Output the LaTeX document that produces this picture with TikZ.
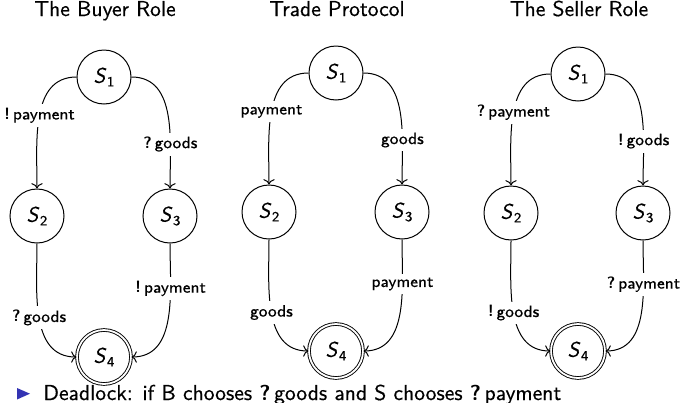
\documentclass[tikz,border=0pt]{standalone}
\usepackage{fontspec}
\setsansfont{Latin Modern Sans}[UprightFeatures={FakeBold=0.5},ItalicFeatures={FakeBold=0.5}]
\renewcommand\familydefault{\sfdefault}
\usetikzlibrary{arrows.meta}
\definecolor{bstruct}{RGB}{51,51,179}
\newcommand{\stname}[1]{\textit{S}\kern0.3pt\raisebox{-0.4ex}{\fontsize{7}{8}\selectfont #1}}
\begin{document}
\begin{tikzpicture}[x=0.5pt,y=-0.5pt,
  state/.style={circle,draw,line width=0.5pt,minimum size=27pt,inner sep=0pt,font=\fontsize{10.5}{12}\selectfont},
  accept/.style={state,double,double distance=0.9pt,line width=0.45pt},
  trans/.style={->,line width=0.5pt},
  lbl/.style={fill=white,font=\fontsize{8.2}{10}\selectfont,inner sep=2pt},
  ttl/.style={anchor=base,font=\fontsize{10.8}{12}\selectfont}]
\useasboundingbox (0,0) rectangle (680,402);
% titles
\node[ttl] (t1) at (105,16) {The Buyer Role};
\node[ttl] (t2) at (337,16) {Trade Protocol};
\node[ttl] (t3) at (579,16) {The Seller Role};
% buyer
\node[state] (b1) at (104,77) {\stname{1}};
\node[state] (b2) at (37,216) {\stname{2}};
\node[state] (b3) at (170,216) {\stname{3}};
\node[accept] (b4) at (104,357) {\stname{4}};
\draw[trans] (b1) to[out=180,in=90] node[lbl] {\textbf{!}\,payment} (b2);
\draw[trans] (b1) to[out=0,in=90] node[lbl,pos=0.7] {\textbf{?}\,goods} (b3);
\draw[trans] (b2) to[out=270,in=180] node[lbl] {\textbf{?}\,goods} (b4);
\draw[trans] (b3) to[out=270,in=0] node[lbl,pos=0.3] {\textbf{!}\,payment} (b4);
% protocol
\node[state] (p1) at (336,73) {\stname{1}};
\node[state] (p2) at (269,212) {\stname{2}};
\node[state] (p3) at (402,212) {\stname{3}};
\node[accept] (p4) at (336,351) {\stname{4}};
\draw[trans] (p1) to[out=180,in=90] node[lbl] {payment} (p2);
\draw[trans] (p1) to[out=0,in=90] node[lbl,pos=0.7] {goods} (p3);
\draw[trans] (p2) to[out=270,in=180] node[lbl] {goods} (p4);
\draw[trans] (p3) to[out=270,in=0] node[lbl,pos=0.3] {payment} (p4);
% seller
\node[state] (s1) at (578,74) {\stname{1}};
\node[state] (s2) at (511,213) {\stname{2}};
\node[state] (s3) at (643,213) {\stname{3}};
\node[accept] (s4) at (578,351) {\stname{4}};
\draw[trans] (s1) to[out=180,in=90] node[lbl] {\textbf{?}\,payment} (s2);
\draw[trans] (s1) to[out=0,in=90] node[lbl,pos=0.7] {\textbf{!}\,goods} (s3);
\draw[trans] (s2) to[out=270,in=180] node[lbl] {\textbf{!}\,goods} (s4);
\draw[trans] (s3) to[out=270,in=0] node[lbl,pos=0.3] {\textbf{?}\,payment} (s4);
% bullet line
\fill[bstruct] (17,388) -- (17,399.5) -- (30,393.7) -- cycle;
\node[anchor=base west,inner sep=0pt,font=\fontsize{10.8}{12}\selectfont] (dl) at (43,400)
  {Deadlock: if B chooses \textbf{?}\,goods and S chooses \textbf{?}\,payment};
\end{tikzpicture}
\end{document}
